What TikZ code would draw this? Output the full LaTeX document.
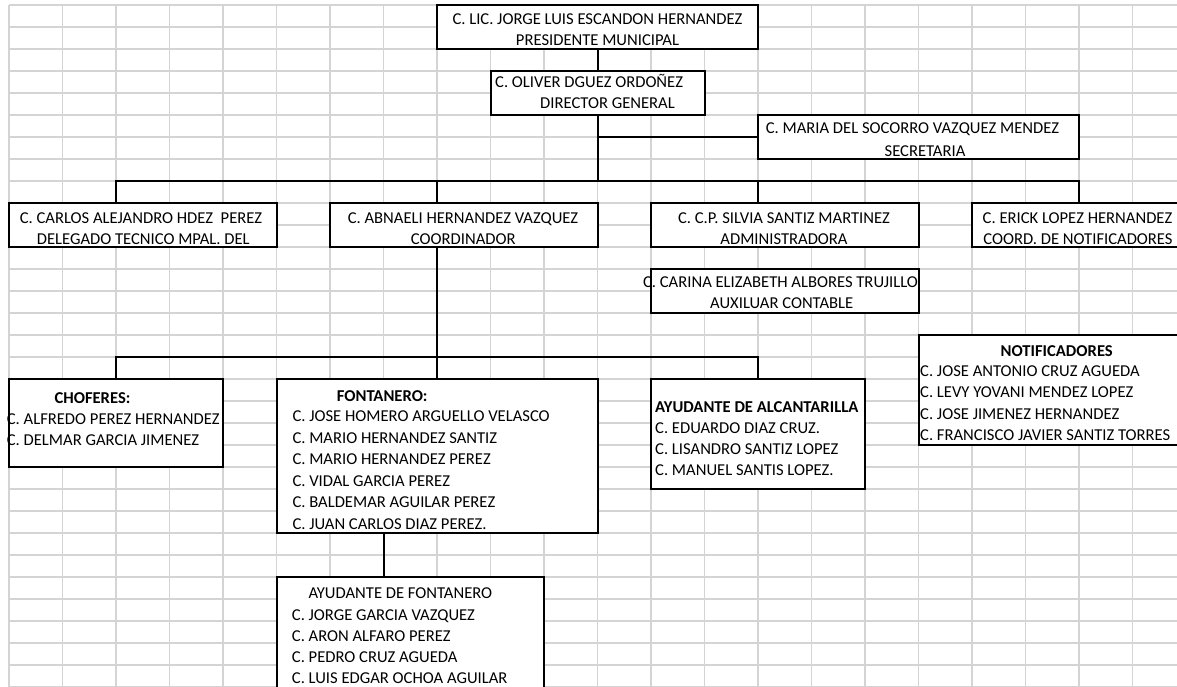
\documentclass[tikz,border=0pt]{standalone}
\usepackage{fontspec}
\setmainfont{Carlito}
\usetikzlibrary{fit}
\newcommand\TxtL[4]{\node[tx, anchor=base west] (#1) at (#2,#3+5.2) {#4};}
\newcommand\TxtC[4]{\node[tx, anchor=base] (#1) at (#2,#3+5.2) {#4};}
\newcommand\TxtR[4]{\node[tx, anchor=base east] (#1) at (#2,#3+5.2) {#4};}
\begin{document}
\begin{tikzpicture}[x=1pt,y=-1pt,
  gridline/.style={draw={rgb,255:red,212;green,212;blue,212}, line width=1.3pt},
  box/.style={draw=black, line width=2pt, fill=white, rectangle, inner sep=0pt},
  conn/.style={draw=black, line width=2pt},
  tx/.style={inner sep=0pt, font=\fontsize{16.6}{20}\selectfont}]
\useasboundingbox (0,0) rectangle (1177,686);
\clip (0,0) rectangle (1177,686);
% spreadsheet grid
\foreach \j in {0,...,21} \draw[gridline] ({9+53.5*\j},5) -- ({9+53.5*\j},690);
\foreach \k in {0,...,31} \draw[gridline] (9,{5+22*\k}) -- (1180,{5+22*\k});
% boxes
\node[box, fit={(437,5) (758,49)}] (pres) {};
\node[box, fit={(490.5,71) (704.5,115)}] (dir) {};
\node[box, fit={(758,115) (1079,159)}] (sec) {};
\node[box, fit={(9,203) (276.5,247)}] (carlos) {};
\node[box, fit={(330,203) (597.5,247)}] (abn) {};
\node[box, fit={(651,203) (918.5,247)}] (silvia) {};
\node[box, fit={(972,203) (1186,247)}] (erick) {};
\node[box, fit={(651,269) (918.5,313)}] (carina) {};
\node[box, fit={(9,379) (223,467)}] (chof) {};
\node[box, fit={(276.5,379) (597.5,533)}] (font) {};
\node[box, fit={(651,379) (865,489)}] (alc) {};
\node[box, fit={(918.5,335) (1186,445)}] (notif) {};
\node[box, fit={(276.5,577) (544,700)}] (ayf) {};
% connectors
\coordinate (b1L) at (116,181);
\coordinate (b1R) at (1079,181);
\coordinate (d1a) at (437,181);
\coordinate (d1b) at (758,181);
\coordinate (b2L) at (116,357);
\coordinate (b2R) at (758,357);
\coordinate (d2) at (437,357);
\coordinate (d3) at (383.5,555);
\draw[conn] (pres.south) -- (dir.north);
\draw[conn] (dir.south) -- (dir.south |- b1L);
\draw[conn] (dir.south |- sec.west) -- (sec.west);
\draw[conn] (b1L |- carlos.north) -- (b1L) -- (b1R) -- (b1R |- erick.north);
\draw[conn] (d1a) -- (d1a |- abn.north);
\draw[conn] (d1b) -- (d1b |- silvia.north);
\draw[conn] (abn.south -| d2) -- (d2);
\draw[conn] (b2L |- chof.north) -- (b2L) -- (b2R) -- (b2R |- alc.north);
\draw[conn] (d2) -- (d2 |- font.north);
\draw[conn] (font.south -| d3) -- (ayf.north -| d3);
% texts
\TxtC{tp1}{597.5}{19}{C. LIC. JORGE LUIS ESCANDON HERNANDEZ}
\TxtC{tp2}{597.5}{40}{PRESIDENTE MUNICIPAL}
\TxtL{td1}{495}{82.3}{C. OLIVER DGUEZ ORDOÑEZ}
\TxtR{td2}{675}{103.7}{DIRECTOR GENERAL}
\TxtC{ts1}{912.5}{128.7}{C. MARIA DEL SOCORRO VAZQUEZ MENDEZ}
\TxtC{ts2}{925}{151.7}{SECRETARIA}
\TxtC{tc1}{141}{218.3}{C. CARLOS ALEJANDRO HDEZ\ \ PEREZ}
\TxtC{tc2}{143.3}{239.3}{DELEGADO TECNICO MPAL. DEL}
\TxtC{ta1}{463}{218.3}{C. ABNAELI HERNANDEZ VAZQUEZ}
\TxtC{ta2}{463.3}{239.3}{COORDINADOR}
\TxtC{tsv1}{784}{218.3}{C. C.P. SILVIA SANTIZ MARTINEZ}
\TxtC{tsv2}{784}{239.3}{ADMINISTRADORA}
\TxtC{te1}{1077.5}{218.3}{C. ERICK LOPEZ HERNANDEZ}
\TxtC{te2}{1078}{239.3}{COORD. DE NOTIFICADORES}
\TxtC{tk1}{780.5}{282.7}{C. CARINA ELIZABETH ALBORES TRUJILLO}
\TxtC{tk2}{781.7}{303.3}{AUXILUAR CONTABLE}
\TxtC{tch0}{92.5}{398.3}{\bfseries CHOFERES:}
\TxtL{tch1}{6.7}{419.3}{C. ALFREDO PEREZ HERNANDEZ}
\TxtL{tch2}{6.7}{440.7}{C. DELMAR GARCIA JIMENEZ}
\TxtL{tf0}{336.7}{396.7}{\bfseries FONTANERO:}
\TxtL{tf1}{292.3}{416.7}{C. JOSE HOMERO ARGUELLO VELASCO}
\TxtL{tf2}{292.3}{438.3}{C. MARIO HERNANDEZ SANTIZ}
\TxtL{tf3}{292.3}{459.3}{C. MARIO HERNANDEZ PEREZ}
\TxtL{tf4}{292.3}{481.7}{C. VIDAL GARCIA PEREZ}
\TxtL{tf5}{292.3}{502.7}{C. BALDEMAR AGUILAR PEREZ}
\TxtL{tf6}{292.3}{524}{C. JUAN CARLOS DIAZ PEREZ.}
\TxtL{tal0}{655}{407.3}{\bfseries AYUDANTE DE ALCANTARILLA}
\TxtL{tal1}{655}{428.3}{C. EDUARDO DIAZ CRUZ.}
\TxtL{tal2}{655}{449}{C. LISANDRO SANTIZ LOPEZ}
\TxtL{tal3}{655}{470.5}{C. MANUEL SANTIS LOPEZ.}
\TxtC{tn0}{1056.7}{351}{\bfseries NOTIFICADORES}
\TxtL{tn1}{920}{371.7}{C. JOSE ANTONIO CRUZ AGUEDA}
\TxtL{tn2}{920}{392.7}{C. LEVY YOVANI MENDEZ LOPEZ}
\TxtL{tn3}{920}{414}{C. JOSE JIMENEZ HERNANDEZ}
\TxtL{tn4}{920}{435}{C. FRANCISCO JAVIER SANTIZ TORRES}
\TxtL{ty0}{308.3}{593.3}{AYUDANTE DE FONTANERO}
\TxtL{ty1}{291.7}{615}{C. JORGE GARCIA VAZQUEZ}
\TxtL{ty2}{291.7}{636.7}{C. ARON ALFARO PEREZ}
\TxtL{ty3}{291.7}{657.7}{C. PEDRO CRUZ AGUEDA}
\TxtL{ty4}{291.7}{678}{C. LUIS EDGAR OCHOA AGUILAR}
\end{tikzpicture}
\end{document}
